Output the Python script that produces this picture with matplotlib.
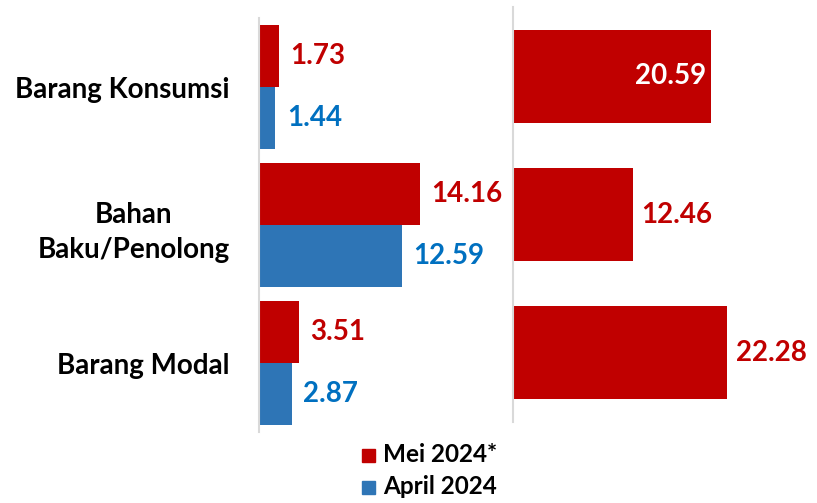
import matplotlib
matplotlib.use("Agg")
import matplotlib.pyplot as plt
from matplotlib.patches import Rectangle
import numpy as np

categories = ["Barang Konsumsi", "Bahan\nBaku/Penolong", "Barang Modal"]
mei_2024 = [1.73, 14.16, 3.51]
april_2024 = [1.44, 12.59, 2.87]
right_values = [20.59, 12.46, 22.28]
series_labels = ["Mei 2024*", "April 2024"]

RED = "#C00000"
BLUE = "#2E75B6"
BLUE_TXT = "#0070C0"
FONT = ["Lato", "DejaVu Sans"]

W, H = 817, 503
fig = plt.figure(figsize=(W / 100, H / 100), dpi=100)

def ax_px(x0, y0, x1, y1):
    return fig.add_axes([x0 / W, 1 - y1 / H, (x1 - x0) / W, (y1 - y0) / H])

# Left panel
axl = ax_px(259, 18, 505, 432)
n = len(categories)
y = np.arange(n)
bh = 0.45
axl.barh(y - bh / 2, mei_2024, height=bh, color=RED)
axl.barh(y + bh / 2, april_2024, height=bh, color=BLUE)
axl.set_xlim(0, 246 / 11.38)
axl.set_ylim(n - 0.5, -0.5)
for i in range(n):
    axl.text(mei_2024[i] + 1.0, y[i] - bh / 2, f"{mei_2024[i]:.2f}", color=RED,
             fontsize=20, fontweight="bold", va="center", ha="left", family=FONT)
    axl.text(april_2024[i] + 1.0, y[i] + bh / 2, f"{april_2024[i]:.2f}", color=BLUE_TXT,
             fontsize=20, fontweight="bold", va="center", ha="left", family=FONT)
axl.set_yticks(y)
axl.set_yticklabels(categories, fontsize=20, fontweight="bold", family=FONT,
                    multialignment="center", linespacing=1.45)
axl.tick_params(axis="y", length=0, pad=21)
axl.set_xticks([])
for s in ["top", "right", "bottom"]:
    axl.spines[s].set_visible(False)
axl.spines["left"].set_color("#D9D9D9")
axl.spines["left"].set_linewidth(1.5)

# Right panel
axr = ax_px(513, 7, 817, 422)
rh = 0.67
axr.barh(y, right_values, height=rh, color=RED)
axr.set_xlim(0, 304 / 9.62)
axr.set_ylim(n - 0.5, -0.5)
for i in range(n):
    v = right_values[i]
    if 20 < v < 21:
        axr.text(v - 0.5, y[i], f"{v:.2f}", color="white", fontsize=20,
                 fontweight="bold", va="center", ha="right", family=FONT)
    else:
        axr.text(v + 0.9, y[i], f"{v:.2f}", color=RED, fontsize=20,
                 fontweight="bold", va="center", ha="left", family=FONT)
axr.set_xticks([])
axr.set_yticks([])
for s in ["top", "right", "bottom"]:
    axr.spines[s].set_visible(False)
axr.spines["left"].set_color("#D9D9D9")
axr.spines["left"].set_linewidth(1.5)

# Legend (manual)
for (col, lab, yc) in [(RED, series_labels[0], 455), (BLUE, series_labels[1], 487)]:
    fig.patches.append(Rectangle((362 / W, 1 - (yc + 6.5) / H), 13 / W, 13 / H,
                                 transform=fig.transFigure, color=col))
    fig.text(383 / W, 1 - yc / H, lab, fontsize=17.5, fontweight="bold",
             family=FONT, va="center", ha="left")

fig.savefig("out.png", dpi=100)
